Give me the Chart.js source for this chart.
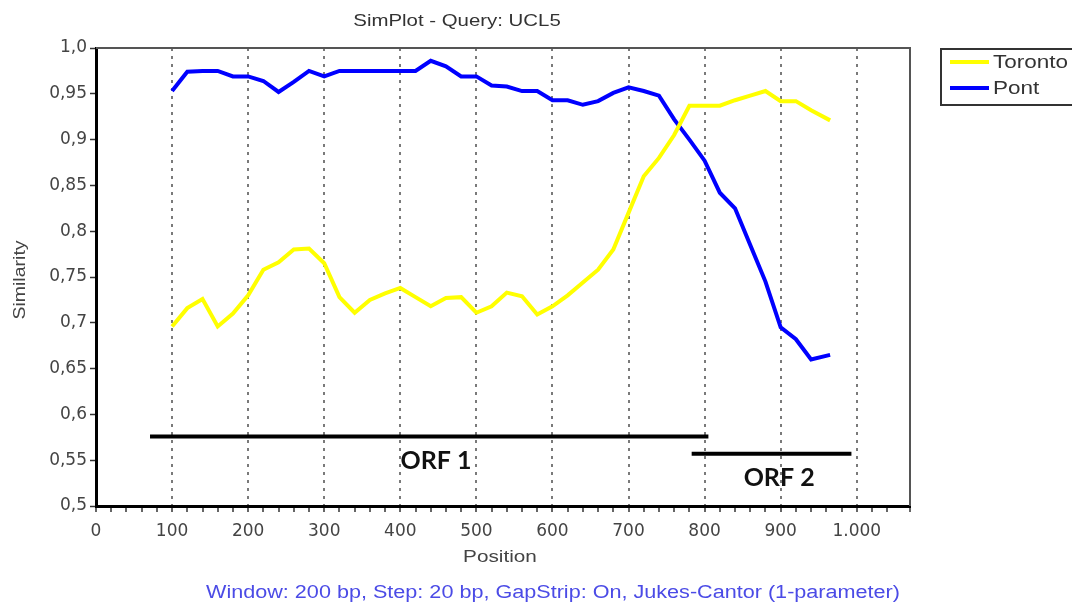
<!DOCTYPE html>
<html>
<head>
<meta charset="utf-8">
<script src="https://cdn.jsdelivr.net/npm/chart.js@4.4.1/dist/chart.umd.min.js"></script>
<style>
html,body{margin:0;padding:0;background:#fff;}
canvas{display:block;}
</style>
</head>
<body>
<canvas id="c" width="1072" height="605"></canvas>
<script>
const positions = [100,120,140,160,180,200,220,240,260,280,300,320,340,360,380,400,420,440,460,480,500,520,540,560,580,600,620,640,660,680,700,720,740,760,780,800,820,840,860,880,900,920,940,965];
const torontoValues = [0.696,0.716,0.726,0.696,0.710,0.730,0.758,0.766,0.780,0.781,0.765,0.728,0.711,0.725,0.732,0.738,0.728,0.718,0.727,0.728,0.711,0.718,0.733,0.729,0.709,0.718,0.730,0.744,0.758,0.780,0.820,0.860,0.880,0.905,0.937,0.937,0.937,0.943,0.948,0.953,0.942,0.942,0.932,0.921];
const pontValues = [0.953,0.974,0.975,0.975,0.969,0.969,0.964,0.952,0.963,0.975,0.969,0.975,0.975,0.975,0.975,0.975,0.975,0.986,0.980,0.969,0.969,0.959,0.958,0.953,0.953,0.943,0.943,0.938,0.942,0.951,0.957,0.953,0.948,0.922,0.900,0.877,0.842,0.825,0.785,0.745,0.695,0.682,0.660,0.665];
const orf1X = [71, 805];
const orf1Y = [0.576, 0.576];
const orf2X = [783, 993];
const orf2Y = [0.557, 0.557];
const xTickLabels = ['0','100','200','300','400','500','600','700','800','900','1.000'];
const yTickLabels = ['0,5','0,55','0,6','0,65','0,7','0,75','0,8','0,85','0,9','0,95','1,0'];
const seriesNames = ['Toronto','Pont'];
const orfLabels = ['ORF 1','ORF 2'];
const titleText = 'SimPlot - Query: UCL5';
const footerText = 'Window: 200 bp, Step: 20 bp, GapStrip: On, Jukes-Cantor (1-parameter)';
const xTitle = 'Position';
const yTitle = 'Similarity';

const pts = (xs, ys) => xs.map((x, i) => ({x: x, y: ys[i]}));
const FONT = '"Liberation Sans", Arial, sans-serif';
const TICKFONT = '"DejaVu Sans", sans-serif';

function wideText(ctx, text, x, y, sx, align) {
  ctx.save();
  ctx.translate(x, y);
  ctx.scale(sx, 1);
  ctx.textAlign = align || 'center';
  ctx.fillText(text, 0, 0);
  ctx.restore();
}

const decor = {
  id: 'decor',
  beforeDatasetsDraw(chart) {
    const {ctx, chartArea: a} = chart;
    ctx.save();
    ctx.strokeStyle = '#555';
    ctx.lineWidth = 2;
    ctx.beginPath();
    ctx.moveTo(a.left, a.top);
    ctx.lineTo(a.right, a.top);
    ctx.lineTo(a.right, a.bottom);
    ctx.stroke();
    ctx.restore();
  },
  afterDraw(chart) {
    const {ctx, scales} = chart;
    ctx.save();
    ctx.textBaseline = 'middle';
    ctx.fillStyle = '#333';
    ctx.font = '17px ' + FONT;
    wideText(ctx, titleText, 457, 21, 1.2);
    ctx.fillStyle = '#444';
    wideText(ctx, xTitle, 500, 557, 1.22);
    ctx.save();
    ctx.translate(21, 280);
    ctx.rotate(-Math.PI / 2);
    ctx.font = '16px ' + FONT;
    wideText(ctx, yTitle, 0, 0, 1.22);
    ctx.restore();
    ctx.fillStyle = '#4b4be6';
    ctx.font = '18px ' + FONT;
    wideText(ctx, footerText, 553, 593, 1.2);
    // ORF labels
    ctx.fillStyle = '#111';
    ctx.font = 'bold 25px Lato, "Open Sans", sans-serif';
    wideText(ctx, orfLabels[0], scales.x.getPixelForValue(447), 461, 1.0);
    wideText(ctx, orfLabels[1], scales.x.getPixelForValue(898), 478, 1.0);
    // legend
    ctx.strokeStyle = '#333';
    ctx.lineWidth = 2;
    ctx.strokeRect(941, 49, 140, 56);
    const cols = ['#ffff00', '#0000ff'];
    const ly = [62, 88];
    ctx.lineWidth = 4;
    ctx.font = '18px ' + FONT;
    for (let i = 0; i < 2; i++) {
      ctx.strokeStyle = cols[i];
      ctx.beginPath();
      ctx.moveTo(950, ly[i]);
      ctx.lineTo(989, ly[i]);
      ctx.stroke();
      ctx.fillStyle = '#333';
      wideText(ctx, seriesNames[i], 993, ly[i] + 1, 1.25, 'left');
    }
    ctx.restore();
  }
};

new Chart(document.getElementById('c'), {
  type: 'line',
  data: {
    datasets: [
      {label: seriesNames[0], data: pts(positions, torontoValues), borderColor: '#ffff00', borderWidth: 4, pointRadius: 0, tension: 0},
      {label: seriesNames[1], data: pts(positions, pontValues), borderColor: '#0000ff', borderWidth: 4, pointRadius: 0, tension: 0},
      {label: 'ORF1', data: pts(orf1X, orf1Y), borderColor: '#000', borderWidth: 4, pointRadius: 0},
      {label: 'ORF2', data: pts(orf2X, orf2Y), borderColor: '#000', borderWidth: 4, pointRadius: 0}
    ]
  },
  options: {
    responsive: false,
    animation: false,
    layout: {padding: {top: 48, right: 162, bottom: 0, left: 0}},
    plugins: {legend: {display: false}, tooltip: {enabled: false}, title: {display: false}},
    scales: {
      x: {
        type: 'linear', min: 0, max: 1070,
        afterFit: s => { s.height = 99; },
        ticks: {
          stepSize: 20, autoSkip: false, maxRotation: 0, padding: 9,
          color: '#444', font: {family: TICKFONT, size: 17},
          callback: v => (v % 100 === 0 ? xTickLabels[v / 100] : '')
        },
        grid: {
          drawOnChartArea: true, drawTicks: true, tickLength: 6,
          color: c => (c.tick && c.tick.value % 100 === 0 && c.tick.value > 0 && c.tick.value <= 1000) ? '#7a7a7a' : 'rgba(0,0,0,0)',
          lineWidth: 2,
          tickColor: '#333', tickWidth: 1.5
        },
        border: {display: true, color: '#000', width: 3, dash: [3, 5]}
      },
      y: {
        min: 0.5, max: 1.0,
        afterFit: s => { s.width = 96; },
        ticks: {
          stepSize: 0.05, color: '#444', padding: 3,
          font: {family: TICKFONT, size: 17},
          callback: (v, i) => yTickLabels[i]
        },
        grid: {drawOnChartArea: false, drawTicks: true, tickLength: 6, tickColor: '#333', tickWidth: 1.5},
        border: {display: true, color: '#000', width: 3}
      }
    }
  },
  plugins: [decor]
});
</script>
</body>
</html>
